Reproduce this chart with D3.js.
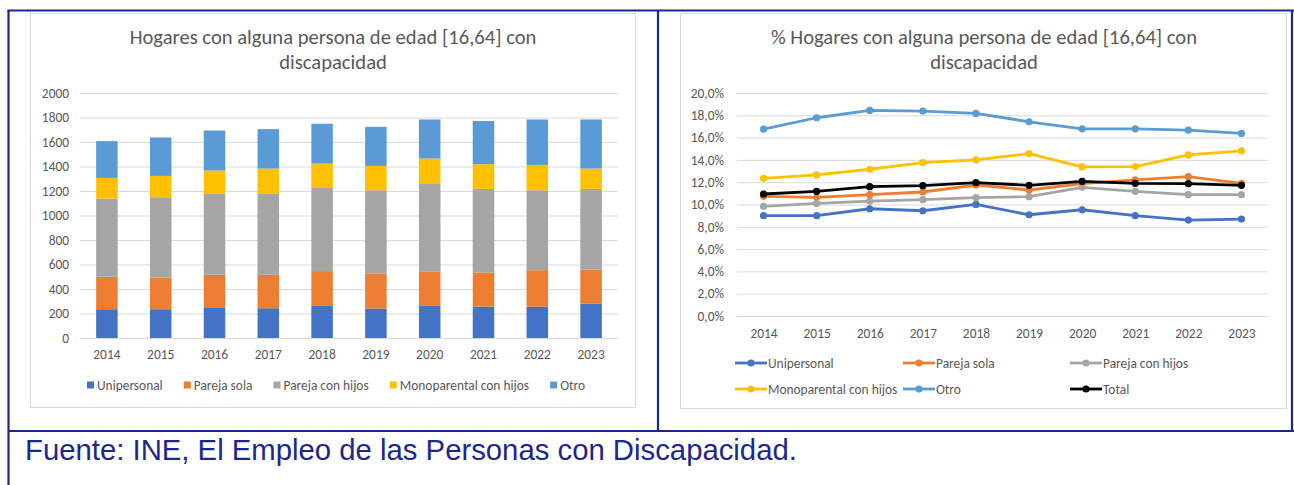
<!DOCTYPE html>
<html><head><meta charset="utf-8">
<script src="https://cdn.jsdelivr.net/npm/d3@7"></script>
<style>
body{margin:0;background:#fff}
svg{display:block}
.lbl{font-family:Calibri,Carlito,Lato,"Open Sans",sans-serif;fill:#595959}
</style>
</head><body>
<svg id="c" width="1294" height="485"></svg>
<script>
// ---- data ----
const years = ["2014","2015","2016","2017","2018","2019","2020","2021","2022","2023"];
const seriesNames = ["Unipersonal","Pareja sola","Pareja con hijos","Monoparental con hijos","Otro"];
// Hogares (miles) - stacked bars
const uniperson = [235,235,251,243,262,240,262,256,256,281];
const parejaSola = [265,259,265,273,284,284,278,279,298,278];
const parejaHijos = [638,655,660,665,679,682,723,682,652,658];
const monoparental = [169,174,191,202,199,199,202,202,207,166];
const otro = [300,314,327,322,325,319,319,352,371,401];
// % hogares - lines
const pctUni = [9.0,9.0,9.62,9.44,10.01,9.08,9.53,9.0,8.6,8.69];
const pctParejaSola = [10.73,10.64,10.88,11.12,11.75,11.3,11.87,12.2,12.5,11.9];
const pctParejaHijos = [9.83,10.1,10.31,10.43,10.61,10.7,11.54,11.18,10.88,10.88];
const pctMono = [12.35,12.65,13.16,13.76,14.0,14.57,13.37,13.4,14.45,14.81];
const pctOtro = [16.76,17.78,18.44,18.38,18.17,17.42,16.79,16.79,16.67,16.37];
const pctTotal = [10.94,11.18,11.6,11.69,11.96,11.72,12.08,11.9,11.87,11.72];
const lineNames = ["Unipersonal","Pareja sola","Pareja con hijos","Monoparental con hijos","Otro","Total"];
const barTicks = [0,200,400,600,800,1000,1200,1400,1600,1800,2000];
const pctTicks = [0,2,4,6,8,10,12,14,16,18,20];
const title1 = ["Hogares con alguna persona de edad [16,64] con","discapacidad"];
const title2 = ["% Hogares con alguna persona de edad [16,64] con","discapacidad"];
const source = "Fuente: INE, El Empleo de las Personas con Discapacidad.";

const colors = ["#4472C4","#ED7D31","#A5A5A5","#FFC000","#5B9BD5","#000000"];
const navy = "#1b2791";
const LBL = 13.4;

const svg = d3.select("#c");
const es = d3.formatLocale({decimal:",",thousands:".",grouping:[3],currency:["","€"]});
const fmtPct = v => es.format(".1f")(v) + "%";

// ---- frame ----
const frame = svg.append("g").attr("stroke", navy).attr("stroke-width", 2.2).attr("fill","none");
frame.append("line").attr("x1",7.5).attr("x2",1294).attr("y1",10.5).attr("y2",10.5);
frame.append("line").attr("x1",8.5).attr("x2",8.5).attr("y1",10).attr("y2",485);
frame.append("line").attr("x1",658).attr("x2",658).attr("y1",10).attr("y2",431);
frame.append("line").attr("x1",1292).attr("x2",1292).attr("y1",10).attr("y2",431);
frame.append("line").attr("x1",8).attr("x2",1294).attr("y1",431).attr("y2",431);

svg.append("text").attr("x",25).attr("y",460)
  .attr("font-family","'Liberation Sans',Arial,sans-serif").attr("font-size",29.3)
  .attr("fill", navy).text(source);

// ---- chart boxes ----
function box(x0,y0,x1,y1){
  svg.append("rect").attr("x",x0+0.5).attr("y",y0+0.5).attr("width",x1-x0).attr("height",y1-y0)
    .attr("fill","#fff").attr("stroke","#d9d9d9").attr("stroke-width",1);
}
box(30,13,635,407);
box(680,13,1286,408);

function title(lines, cx){
  const t = svg.append("text").attr("class","lbl").attr("text-anchor","middle")
    .attr("font-size",20.6);
  lines.forEach((l,i)=> t.append("tspan").attr("x",cx).attr("y",43.5+i*25).text(l));
}
title(title1, 333);
title(title2, 984);

function styleAxis(g){
  g.select(".domain").remove();
  g.selectAll(".tick line").attr("stroke","#d9d9d9").attr("stroke-width",1);
  g.selectAll(".tick text").attr("class","lbl").attr("font-size",LBL).attr("fill","#595959");
}

// ---- left: stacked bars ----
{
  const x = d3.scaleBand().domain(years).range([80,618]).paddingInner(0.6).paddingOuter(0.3);
  const y = d3.scaleLinear().domain([0,2000]).range([338,93]);
  svg.append("g").attr("transform","translate(80,0)")
    .call(d3.axisLeft(y).tickValues(barTicks).tickSize(-(618-80)).tickPadding(11).tickFormat(d3.format("d")))
    .call(styleAxis);
  svg.append("g").attr("transform","translate(0,338)")
    .call(d3.axisBottom(x).tickSize(0).tickPadding(11.5))
    .call(styleAxis);
  const rows = years.map((yr,i)=>({year:yr, s0:uniperson[i], s1:parejaSola[i], s2:parejaHijos[i], s3:monoparental[i], s4:otro[i]}));
  const stack = d3.stack().keys(["s0","s1","s2","s3","s4"])(rows);
  svg.append("g").selectAll("g").data(stack).join("g").attr("fill",(d,i)=>colors[i])
    .selectAll("rect").data(d=>d).join("rect")
    .attr("x",d=>x(d.data.year)).attr("width",x.bandwidth())
    .attr("y",d=>y(d[1])).attr("height",d=>y(d[0])-y(d[1]));
  // legend: spread between 87 and 585
  const lg = svg.append("g");
  const gs = [], ws = [];
  seriesNames.forEach((n,i)=>{
    const g = lg.append("g");
    g.append("rect").attr("x",0).attr("y",-3.5).attr("width",7).attr("height",7).attr("fill",colors[i]);
    const t = g.append("text").attr("class","lbl").attr("x",10).attr("y",4.5).attr("font-size",LBL).text(n);
    ws.push(10 + t.node().getComputedTextLength());
    gs.push(g);
  });
  const gap = (585 - 87 - d3.sum(ws)) / (ws.length - 1);
  let cx = 87;
  gs.forEach((g,i)=>{ g.attr("transform",`translate(${cx},385)`); cx += ws[i] + gap; });
}

// ---- right: lines ----
{
  const x = d3.scalePoint().domain(years).range([737,1268]).padding(0.5);
  const y = d3.scaleLinear().domain([0,20]).range([316,93]);
  svg.append("g").attr("transform","translate(737,0)")
    .call(d3.axisLeft(y).tickValues(pctTicks).tickSize(-(1268-737)).tickPadding(13).tickFormat(fmtPct))
    .call(styleAxis);
  svg.append("g").attr("transform","translate(0,316)")
    .call(d3.axisBottom(x).tickSize(0).tickPadding(12))
    .call(styleAxis);
  const data = [pctUni,pctParejaSola,pctParejaHijos,pctMono,pctOtro,pctTotal];
  const line = d3.line().x((d,i)=>x(years[i])).y(d=>y(d));
  data.forEach((vals,k)=>{
    const g = svg.append("g");
    g.append("path").attr("d",line(vals)).attr("fill","none").attr("stroke",colors[k])
      .attr("stroke-width",2.8).attr("stroke-linejoin","round");
    g.selectAll("circle").data(vals).join("circle")
      .attr("cx",(d,i)=>x(years[i])).attr("cy",d=>y(d)).attr("r",3.6).attr("fill",colors[k]);
  });
  // legend 3 columns x 2 rows
  const colX = [735,903,1070], rowY = [363,389];
  lineNames.forEach((n,i)=>{
    const lx = colX[i%3], ly = rowY[Math.floor(i/3)];
    const g = svg.append("g").attr("transform",`translate(${lx},${ly})`);
    g.append("line").attr("x1",0).attr("x2",32).attr("y1",0).attr("y2",0)
      .attr("stroke",colors[i]).attr("stroke-width",2.8);
    g.append("circle").attr("cx",16).attr("cy",0).attr("r",3.6).attr("fill",colors[i]);
    g.append("text").attr("class","lbl").attr("x",33).attr("y",4.5).attr("font-size",LBL).text(n);
  });
}
</script>
</body></html>
